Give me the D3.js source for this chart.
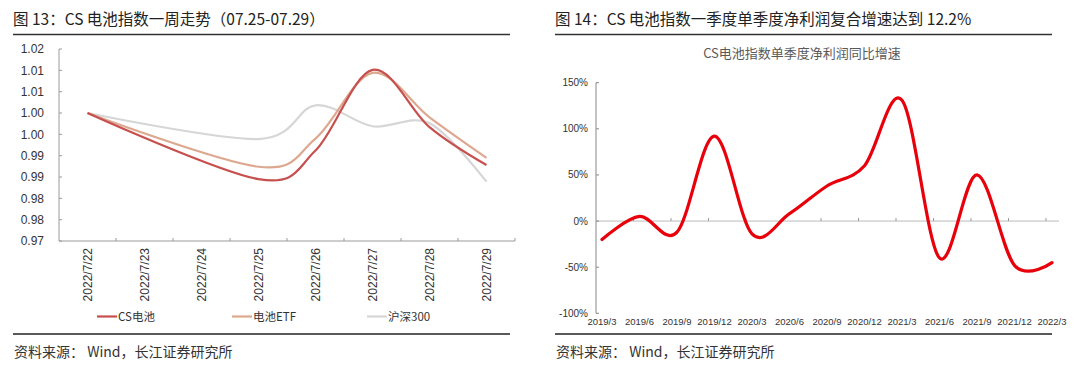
<!DOCTYPE html>
<html>
<head>
<meta charset="utf-8">
<script src="https://cdn.jsdelivr.net/npm/d3@7"></script>
<style>
body{margin:0;background:#fff;}
text{font-family:"Liberation Sans","Noto Sans CJK SC",sans-serif;}
.cn{font-family:"Noto Sans CJK SC","Liberation Sans",sans-serif;}
</style>
</head>
<body>
<div id="chart"></div>
<script>
// left chart: 一周走势
var weekTicks = ["2022/7/22","2022/7/23","2022/7/24","2022/7/25","2022/7/26","2022/7/27","2022/7/28","2022/7/29"];
var tradeDays = ["2022/7/22","2022/7/25","2022/7/26","2022/7/27","2022/7/28","2022/7/29"];
var csBattery = [1.000, 0.9845, 0.9912, 1.0101, 0.9967, 0.9878];
var batteryEtf = [1.000, 0.9874, 0.9940, 1.0094, 0.9990, 0.9895];
var hs300 = [1.000, 0.9939, 1.0018, 0.9969, 0.9976, 0.9839];
var leftTickValues = [0.97, 0.975, 0.98, 0.985, 0.99, 0.995, 1.0, 1.005, 1.01, 1.015];
var leftTickLabels = ["0.97","0.98","0.98","0.99","0.99","1.00","1.00","1.01","1.01","1.02"];
var seriesNames = ["CS电池","电池ETF","沪深300"];

// right chart: 单季度净利润同比增速
var quarters = ["2019/3","2019/6","2019/9","2019/12","2020/3","2020/6","2020/9","2020/12","2021/3","2021/6","2021/9","2021/12","2022/3"];
var profitGrowth = [-20, 5, -12, 92, -14, 8, 38, 60, 131, -40, 50, -48, -45];
var rightTickValues = [-100, -50, 0, 50, 100, 150];

(function(){

	var width = 1080;
	var height = 367;
	var svg = d3.select("div#chart")
		.append("svg")
		.attr("width", width)
		.attr("height", height);

	// headers and footers
	var panels = [
		{x:13, title:"图 13：CS 电池指数一周走势（07.25-07.29）"},
		{x:555, title:"图 14：CS 电池指数一季度单季度净利润复合增速达到 12.2%"}
	];
	panels.forEach(function(p){
		svg.append("text").attr("class","cn")
			.attr("x", p.x).attr("y", 25)
			.attr("font-size", 15.5).attr("fill", "#222")
			.text(p.title);
		svg.append("line")
			.attr("x1", p.x).attr("x2", p.x + 497)
			.attr("y1", 34.5).attr("y2", 34.5)
			.attr("stroke", "#333").attr("stroke-width", 1.5);
		svg.append("line")
			.attr("x1", p.x).attr("x2", p.x + 497)
			.attr("y1", 334).attr("y2", 334)
			.attr("stroke", "#222").attr("stroke-width", 1.5);
		svg.append("text").attr("class","cn")
			.attr("x", p.x + 1).attr("y", 357)
			.attr("font-size", 14).attr("fill", "#333")
			.text("资料来源： Wind，长江证券研究所");
	});

	// ---------- left chart ----------
	var xBand = d3.scaleBand().domain(weekTicks).range([59, 515]);
	var yLeft = d3.scaleLinear().domain([0.97, 1.015]).range([241, 49]);
	var axisColor = "#9a9a9a";

	var gl = svg.append("g");
	gl.append("line").attr("x1",59).attr("x2",59).attr("y1",yLeft(1.015)).attr("y2",yLeft(0.97))
		.attr("stroke",axisColor);
	gl.append("line").attr("x1",59).attr("x2",515).attr("y1",yLeft(0.97)).attr("y2",yLeft(0.97))
		.attr("stroke",axisColor);

	gl.selectAll(".ytick").data(leftTickValues).enter().append("line")
		.attr("x1",59).attr("x2",62)
		.attr("y1",function(d){ return yLeft(d); })
		.attr("y2",function(d){ return yLeft(d); })
		.attr("stroke",axisColor);
	gl.selectAll(".ylab").data(leftTickValues).enter().append("text")
		.attr("x",44)
		.attr("y",function(d){ return yLeft(d); })
		.attr("dy","0.35em")
		.attr("text-anchor","end")
		.attr("font-size",12).attr("fill","#333")
		.text(function(d,i){ return leftTickLabels[i]; });

	gl.selectAll(".xtick").data(weekTicks).enter().append("line")
		.attr("x1",function(d){ return xBand(d) + xBand.bandwidth(); })
		.attr("x2",function(d){ return xBand(d) + xBand.bandwidth(); })
		.attr("y1",yLeft(0.97)).attr("y2",yLeft(0.97) - 3)
		.attr("stroke",axisColor);
	gl.selectAll(".xlab").data(weekTicks).enter().append("text")
		.attr("transform",function(d){
			return "translate(" + (xBand(d) + xBand.bandwidth()/2) + ",248) rotate(-90)";
		})
		.attr("dy","0.35em")
		.attr("text-anchor","end")
		.attr("font-size",12).attr("fill","#333")
		.text(function(d){ return d; });

	var colors = ["#C6504E","#DDA88F","#D6D6D6"];
	var seriesData = [csBattery, batteryEtf, hs300];
	var lineLeft = d3.line()
		.x(function(d,i){ return xBand(tradeDays[i]) + xBand.bandwidth()/2; })
		.y(function(d){ return yLeft(d); })
		.curve(d3.curveCatmullRom.alpha(0));

	[2,1,0].forEach(function(k){
		gl.append("path")
			.attr("d", lineLeft(seriesData[k]))
			.attr("fill","none")
			.attr("stroke",colors[k])
			.attr("stroke-width",2.2);
	});

	var legendX = [97, 232, 367];
	seriesNames.forEach(function(name,i){
		gl.append("line").attr("x1",legendX[i]).attr("x2",legendX[i]+20)
			.attr("y1",316.5).attr("y2",316.5)
			.attr("stroke",colors[i]).attr("stroke-width",2.2);
		gl.append("text").attr("class","cn")
			.attr("x",legendX[i]+21).attr("y",316.5).attr("dy","0.35em")
			.attr("font-size",11.5).attr("fill","#333")
			.text(name);
	});

	// ---------- right chart ----------
	var xPoint = d3.scalePoint().domain(quarters).range([602, 1052]);
	var yRight = d3.scaleLinear().domain([-100, 150]).range([313.3, 82.7]);
	var gr = svg.append("g");

	gr.append("text").attr("class","cn")
		.attr("x",802).attr("y",58)
		.attr("text-anchor","middle")
		.attr("font-size",13).attr("fill","#595959")
		.text("CS电池指数单季度净利润同比增速");

	gr.append("line").attr("x1",596).attr("x2",596).attr("y1",yRight(150)).attr("y2",yRight(-100))
		.attr("stroke","#888");
	gr.append("line").attr("x1",596).attr("x2",1059).attr("y1",yRight(0)).attr("y2",yRight(0))
		.attr("stroke","#bbb");

	gr.selectAll(".rytick").data(rightTickValues).enter().append("line")
		.attr("x1",596).attr("x2",599)
		.attr("y1",function(d){ return yRight(d); })
		.attr("y2",function(d){ return yRight(d); })
		.attr("stroke","#888");
	gr.selectAll(".rylab").data(rightTickValues).enter().append("text")
		.attr("x",588)
		.attr("y",function(d){ return yRight(d); })
		.attr("dy","0.35em")
		.attr("text-anchor","end")
		.attr("font-size",10).attr("fill","#333")
		.text(function(d){ return d + "%"; });

	gr.selectAll(".rxtick").data(quarters.slice(1)).enter().append("line")
		.attr("x1",function(d){ return xPoint(d) - 6; })
		.attr("x2",function(d){ return xPoint(d) - 6; })
		.attr("y1",yRight(0)).attr("y2",yRight(0) - 3)
		.attr("stroke","#999");
	gr.selectAll(".rxlab").data(quarters).enter().append("text")
		.attr("x",function(d){ return xPoint(d); })
		.attr("y",322)
		.attr("dy","0.35em")
		.attr("text-anchor","middle")
		.attr("font-size",9.5).attr("fill","#333")
		.text(function(d){ return d; });

	var lineRight = d3.line()
		.x(function(d,i){ return xPoint(quarters[i]); })
		.y(function(d){ return yRight(d); })
		.curve(d3.curveCatmullRom.alpha(0));

	gr.append("path")
		.attr("d", lineRight(profitGrowth))
		.attr("fill","none")
		.attr("stroke","#E8000B")
		.attr("stroke-width",3.2)
		.attr("stroke-linecap","round");

})();
</script>
</body>
</html>
